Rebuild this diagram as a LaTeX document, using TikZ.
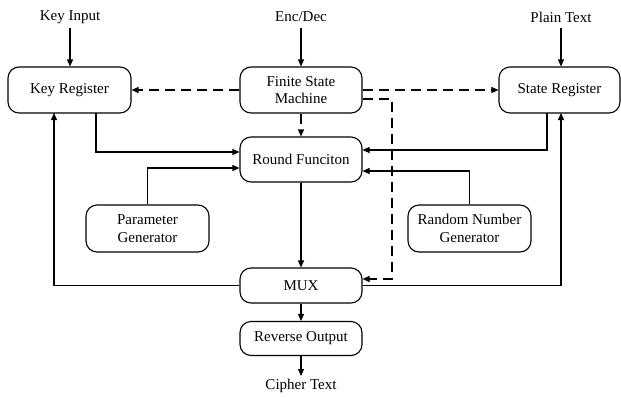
\documentclass[tikz,border=0pt]{standalone}
\usepackage{fontspec}
\setmainfont{Liberation Serif}
\usetikzlibrary{arrows.meta}
\begin{document}
\begin{tikzpicture}[x=1pt,y=-1pt,
  box/.style={draw,line width=1.1pt,rounded corners=11pt,align=center,inner sep=0pt,font=\fontsize{15}{17.5}\selectfont},
  lbl/.style={inner sep=0pt,font=\fontsize{15}{17.5}\selectfont},
  conn/.style={line width=1.1pt,-{Triangle[length=7pt,width=6pt]}},
  dconn/.style={conn,dash pattern=on 10pt off 6pt}]
\useasboundingbox (0,0) rectangle (621,397);
% nodes
\node[box,minimum width=123pt,minimum height=46pt] (kr) at (69.5,90) {Key Register};
\node[box,minimum width=122pt,minimum height=46pt] (fsm) at (301,90) {Finite State\\Machine};
\node[box,minimum width=121pt,minimum height=46pt] (sr) at (559.5,90) {State Register};
\node[box,minimum width=122pt,minimum height=45pt] (rf) at (301,159.5) {Round Funciton};
\node[box,minimum width=123pt,minimum height=47pt] (pg) at (147.5,228.5) {Parameter\\Generator};
\node[box,minimum width=123pt,minimum height=47pt] (rng) at (469.5,228.5) {Random Number\\Generator};
\node[box,minimum width=122pt,minimum height=35pt] (mux) at (301,285.5) {MUX};
\node[box,minimum width=122pt,minimum height=34pt] (ro) at (301,338.5) {Reverse Output};
\node[lbl] (ki) at (70,17) {Key Input};
\node[lbl] (ed) at (301,17) {Enc/Dec};
\node[lbl] (pt) at (561,17) {Plain Text};
\node[lbl] (ct) at (301,386) {Cipher Text};
% coordinates
\coordinate (kiE) at (70,28);
\coordinate (edE) at (301,28);
\coordinate (ptE) at (561,28);
\coordinate (ctE) at (301,376);
% inputs
\draw[conn] (kiE) -- (kiE |- kr.north);
\draw[conn] (edE) -- (fsm.north);
\draw[conn] (ptE) -- (ptE |- sr.north);
% FSM dashed
\draw[dconn] (fsm.west) -- (kr.east);
\draw[dconn] (fsm.east) -- (sr.west);
\draw[dconn] (fsm.south) -- (rf.north);
\coordinate (fd1) at (fsm.east |- 0,99);
\coordinate (fd2) at (392,279);
\draw[dconn] (fd1) -| (fd2) -- (fd2 -| mux.east);
% registers into round function
\coordinate (krO) at (96,113);
\draw[conn] (krO) |- (rf.west |- 0,152);
\coordinate (srO) at (547,113);
\draw[conn] (srO) |- (rf.east |- 0,150);
\draw[conn] (pg.north) |- (rf.west |- 0,168);
\draw[conn] (rng.north) |- (rf.east |- 0,171);
% round function to mux
\draw[conn] (rf.south) -- (mux.north);
% mux feedback
\coordinate (krI) at (54,113);
\draw[conn] (mux.west) -| (krI);
\coordinate (srI) at (561,113);
\draw[conn] (mux.east) -| (srI);
% output
\draw[conn] (mux.south) -- (ro.north);
\draw[conn] (ro.south) -- (ctE);
\end{tikzpicture}
\end{document}
